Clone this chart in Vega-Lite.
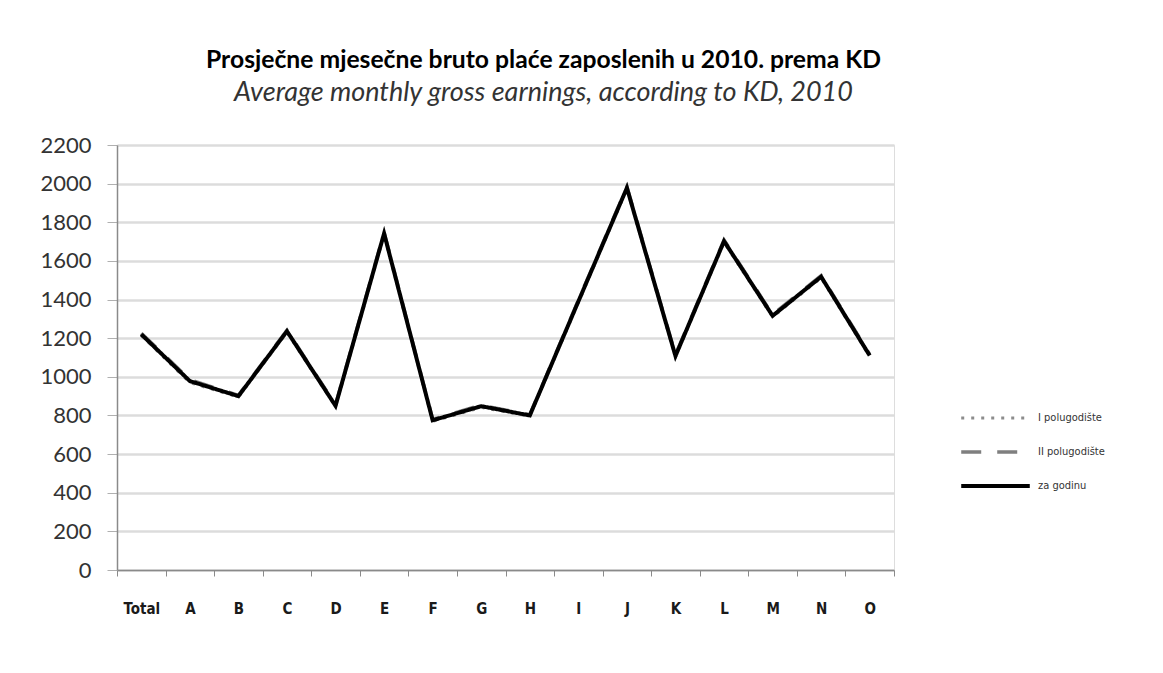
{
  "$schema": "https://vega.github.io/schema/vega-lite/v6.json",
  "width": 777,
  "height": 425,
  "padding": {"left": 39, "top": 48, "right": 10, "bottom": 10},
  "background": "white",
  "title": {
    "text": "Prosječne mjesečne bruto plaće zaposlenih u 2010. prema KD",
    "subtitle": "Average monthly gross earnings, according to KD, 2010",
    "anchor": "middle",
    "dx": 38,
    "font": "Lato",
    "fontSize": 24.7,
    "fontWeight": "bold",
    "color": "#000000",
    "subtitleFont": "Lato",
    "subtitleFontSize": 27,
    "subtitleFontStyle": "italic",
    "subtitleFontWeight": "normal",
    "subtitleColor": "#333333",
    "subtitlePadding": 7,
    "offset": 28
  },
  "data": {
    "values": [
      {"cat": "Total", "series": "I polugodište", "value": 1214},
      {"cat": "A", "series": "I polugodište", "value": 970},
      {"cat": "B", "series": "I polugodište", "value": 896},
      {"cat": "C", "series": "I polugodište", "value": 1230},
      {"cat": "D", "series": "I polugodište", "value": 845},
      {"cat": "E", "series": "I polugodište", "value": 1735},
      {"cat": "F", "series": "I polugodište", "value": 770},
      {"cat": "G", "series": "I polugodište", "value": 842},
      {"cat": "H", "series": "I polugodište", "value": 796},
      {"cat": "I", "series": "I polugodište", "value": 1384},
      {"cat": "J", "series": "I polugodište", "value": 1972},
      {"cat": "K", "series": "I polugodište", "value": 1102},
      {"cat": "L", "series": "I polugodište", "value": 1696},
      {"cat": "M", "series": "I polugodište", "value": 1310},
      {"cat": "N", "series": "I polugodište", "value": 1512},
      {"cat": "O", "series": "I polugodište", "value": 1104},
      {"cat": "Total", "series": "II polugodište", "value": 1226},
      {"cat": "A", "series": "II polugodište", "value": 985},
      {"cat": "B", "series": "II polugodište", "value": 904},
      {"cat": "C", "series": "II polugodište", "value": 1241},
      {"cat": "D", "series": "II polugodište", "value": 855},
      {"cat": "E", "series": "II polugodište", "value": 1748},
      {"cat": "F", "series": "II polugodište", "value": 780},
      {"cat": "G", "series": "II polugodište", "value": 853},
      {"cat": "H", "series": "II polugodište", "value": 804},
      {"cat": "I", "series": "II polugodište", "value": 1396},
      {"cat": "J", "series": "II polugodište", "value": 1984},
      {"cat": "K", "series": "II polugodište", "value": 1114},
      {"cat": "L", "series": "II polugodište", "value": 1708},
      {"cat": "M", "series": "II polugodište", "value": 1322},
      {"cat": "N", "series": "II polugodište", "value": 1524},
      {"cat": "O", "series": "II polugodište", "value": 1116},
      {"cat": "Total", "series": "za godinu", "value": 1220},
      {"cat": "A", "series": "za godinu", "value": 978},
      {"cat": "B", "series": "za godinu", "value": 900},
      {"cat": "C", "series": "za godinu", "value": 1236},
      {"cat": "D", "series": "za godinu", "value": 850},
      {"cat": "E", "series": "za godinu", "value": 1742},
      {"cat": "F", "series": "za godinu", "value": 775},
      {"cat": "G", "series": "za godinu", "value": 848},
      {"cat": "H", "series": "za godinu", "value": 800},
      {"cat": "I", "series": "za godinu", "value": 1390},
      {"cat": "J", "series": "za godinu", "value": 1978},
      {"cat": "K", "series": "za godinu", "value": 1108},
      {"cat": "L", "series": "za godinu", "value": 1702},
      {"cat": "M", "series": "za godinu", "value": 1316},
      {"cat": "N", "series": "za godinu", "value": 1518},
      {"cat": "O", "series": "za godinu", "value": 1110}
    ]
  },
  "mark": {"type": "line", "strokeJoin": "miter"},
  "encoding": {
    "x": {
      "field": "cat",
      "type": "nominal",
      "sort": null,
      "bandPosition": 0.5,
      "scale": {"type": "band", "paddingInner": 0, "paddingOuter": 0},
      "axis": {
        "title": null,
        "labelAngle": 0,
        "labelFont": "DejaVu Sans Condensed",
        "labelFontWeight": "bold",
        "labelFontSize": 15,
        "labelColor": "#1a1a1a",
        "labelPadding": 25,
        "tickBand": "extent",
        "tickSize": 6,
        "tickColor": "#8a8a8a",
        "domainColor": "#8a8a8a",
        "domainWidth": 1.5,
        "grid": false
      }
    },
    "y": {
      "field": "value",
      "type": "quantitative",
      "scale": {"domain": [0, 2200], "nice": false},
      "axis": {
        "title": null,
        "format": "d",
        "values": [0, 200, 400, 600, 800, 1000, 1200, 1400, 1600, 1800, 2000, 2200],
        "labelFont": "Lato",
        "labelFontSize": 22,
        "labelColor": "#333333",
        "labelPadding": 16,
        "tickSize": 10,
        "tickColor": "#b0b0b0",
        "domainColor": "#8a8a8a",
        "domainWidth": 1.5,
        "gridColor": "#dcdcdc",
        "gridWidth": 2.5
      }
    },
    "color": {
      "field": "series",
      "type": "nominal",
      "scale": {
        "domain": ["I polugodište", "II polugodište", "za godinu"],
        "range": ["#8c8c8c", "#7f7f7f", "#000000"]
      },
      "legend": {
        "title": null,
        "orient": "none",
        "legendX": 842,
        "legendY": 263,
        "symbolType": "stroke",
        "symbolSize": 4700,
        "clipHeight": 20,
        "labelFont": "DejaVu Sans Condensed",
        "labelFontSize": 11,
        "labelColor": "#333333",
        "labelOffset": 6,
        "rowPadding": 14
      }
    },
    "strokeDash": {
      "field": "series",
      "type": "nominal",
      "scale": {
        "domain": ["I polugodište", "II polugodište", "za godinu"],
        "range": [[3, 7], [20, 16], [1, 0]]
      },
      "legend": null
    },
    "strokeWidth": {
      "field": "series",
      "type": "nominal",
      "scale": {
        "domain": ["I polugodište", "II polugodište", "za godinu"],
        "range": [3, 4, 4.5]
      },
      "legend": null
    }
  }
}
